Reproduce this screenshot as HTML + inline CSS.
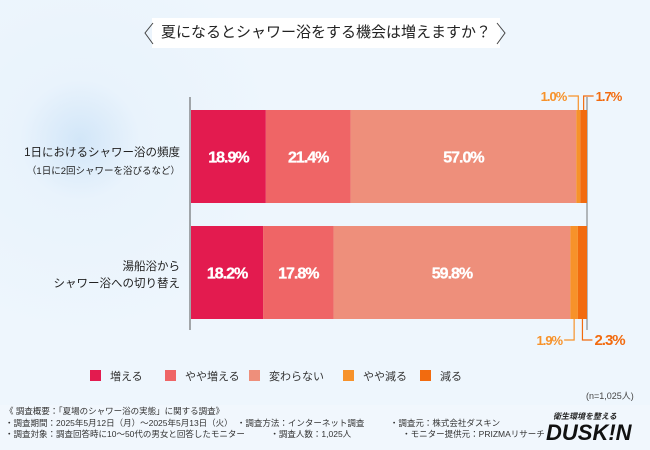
<!DOCTYPE html>
<html><head><meta charset="utf-8">
<style>
body{margin:0;width:650px;height:450px;overflow:hidden;font-family:"Liberation Sans","Noto Sans CJK JP",sans-serif;}
#bg{position:absolute;left:0;top:0;width:650px;height:450px;background:radial-gradient(circle at 80px 140px,#d2e6f8 0,#e9f3fc 60px,#eef6fd 200px),#eef6fd;}
.t{position:absolute;white-space:nowrap;}
</style></head><body>
<div id="bg"></div>
<div style="position:absolute;left:152px;top:18px;width:348px;height:30px;background:#fff;"></div>
<div class="t" style="left:152px;top:18px;width:348px;height:30px;line-height:30px;text-align:center;font-size:15px;color:#222;">夏になるとシャワー浴をする機会は増えますか？</div>
<svg width="650" height="450" style="position:absolute;left:0;top:0" id="c">
<path d="M153 23 L145 33 L153 44" stroke="#444" fill="none"/><path d="M497 23 L505 33 L497 44" stroke="#444" fill="none"/>
</svg>
<div class="t" style="right:470px;top:144px;font-size:11.5px;color:#222;text-align:right;line-height:18px">1日におけるシャワー浴の頻度<br><span style="font-size:9.5px">（1日に2回シャワーを浴びるなど）</span></div>
<div class="t" style="right:470px;top:259px;font-size:11.5px;color:#222;text-align:right;line-height:17px">湯船浴から<br>シャワー浴への切り替え</div>
<div class="t" style="left:586px;top:389px;font-size:9px;color:#444">(n=1,025人)</div>
<div style="position:absolute;left:0;top:405px;width:650px;height:45px;background:#f1f7fd"></div>
<div class="t" style="left:5px;top:406px;font-size:8.5px;line-height:11.5px;color:#333">《 調査概要：「夏場のシャワー浴の実態」に関する調査》<br>・調査期間：2025年5月12日（月）～2025年5月13日（火）　・調査方法：インターネット調査　　　・調査元：株式会社ダスキン<br>・調査対象：調査回答時に10～50代の男女と回答したモニター　　　・調査人数：1,025人　　　　　　・モニター提供元：PRIZMAリサーチ</div>
<div class="t" style="left:553px;top:411px;font-size:8px;font-style:italic;font-weight:bold;color:#222">衛生環境を整える</div>
<div class="t" style="left:546px;top:420px;font-size:22px;font-style:italic;font-weight:bold;color:#111;">DUSK!N</div>
<script>
const categories=["1日におけるシャワー浴の頻度","湯船浴からシャワー浴への切り替え"];
const seriesNames=["増える","やや増える","変わらない","やや減る","減る"];
const inc=[18.9,18.2];
const slightInc=[21.4,17.8];
const same=[57.0,59.8];
const slightDec=[1.0,1.9];
const dec=[1.7,2.3];
const colors=["#e31b4f","#ef6566","#ee8f7b","#f7922a","#f26b0f"];
const series=[inc,slightInc,same,slightDec,dec];
const svg=document.getElementById('c');const NS='http://www.w3.org/2000/svg';
const x0=191,x1=587,rowTop=[110,226],bh=93;
const xs=v=>x0+(x1-x0)*v/100;
function mk(t,a){const e=document.createElementNS(NS,t);for(const k in a)e.setAttribute(k,a[k]);svg.appendChild(e);return e;}
const ax=mk('line',{x1:190,y1:97,x2:190,y2:330,stroke:'#555','stroke-width':1});

const ax2=mk('line',{x1:587,y1:97,x2:587,y2:330,stroke:'#555','stroke-width':0.8});

for(let r=0;r<2;r++){let cum=0;for(let s=0;s<5;s++){const v=series[s][r];
const rc=mk('rect',{x:xs(cum),y:rowTop[r],width:xs(cum+v)-xs(cum),height:bh,fill:colors[s]});

const mid=xs(cum+v/2);
if(s<3){const tx=mk('text',{x:mid,y:rowTop[r]+bh/2+6,'text-anchor':'middle','font-size':16,'font-weight':'bold',fill:'#fff',stroke:'#fff','stroke-width':0.3,'font-family':'Liberation Sans, sans-serif','letter-spacing':'-1'});
tx.textContent=v.toFixed(1)+'%';}
else{const top=r===0;const ly=top?96:340;const yb=top?rowTop[r]:rowTop[r]+bh;
const off=s===3?-1:1;
const p=mk('path',{d:`M${mid} ${yb} L${mid} ${ly} L${mid+off*10} ${ly}`,stroke:colors[s],fill:'none','stroke-width':1.2});

const tx=mk('text',{x:s===3?mid-12:mid+12,y:ly+5,'text-anchor':s===3?'end':'start','font-size':(r===1&&s===4)?15:13,'font-weight':'bold',fill:colors[s],'font-family':'Liberation Sans, sans-serif','letter-spacing':'-1'});
tx.textContent=v.toFixed(1)+'%';}
cum+=v;}}
const lgX=[90,165,249,343,420];
for(let s=0;s<5;s++){const g=mk('g',{});
const r=document.createElementNS(NS,'rect');r.setAttribute('x',lgX[s]);r.setAttribute('y',370);r.setAttribute('width',11);r.setAttribute('height',11);r.setAttribute('fill',colors[s]);g.appendChild(r);
const t=document.createElementNS(NS,'text');t.setAttribute('x',lgX[s]+20);t.setAttribute('y',380);t.setAttribute('font-size',11);t.setAttribute('fill','#333');t.setAttribute('font-family','Liberation Sans, Noto Sans CJK JP, sans-serif');t.textContent=seriesNames[s];g.appendChild(t);}
</script>
</body></html>
